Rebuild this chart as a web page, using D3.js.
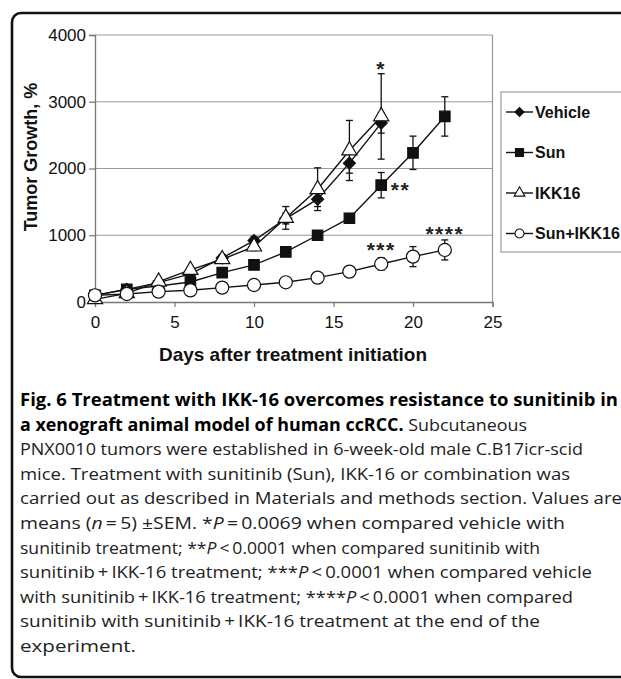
<!DOCTYPE html>
<html>
<head>
<meta charset="utf-8">
<script src="https://cdn.jsdelivr.net/npm/d3@7"></script>
<style>
	body { margin: 0; background: #fff; }
	svg { display: block; }
</style>
</head>
<body>
<svg id="fig" width="621" height="679"></svg>
<script>
//DATA

var days = [0, 2, 4, 6, 8, 10, 12, 14, 16, 18, 20, 22];

var vehicle    = [100, 190, 290, 420, 660, 920, 1250, 1540, 2080, 2680];
var vehicleErr = [20, 20, 30, 40, 50, 60, 80, 110, 150, 150];

var sun    = [100, 190, 240, 300, 440, 555, 750, 1000, 1255, 1750, 2235, 2780];
var sunErr = [20, 20, 20, 30, 40, 40, 50, 60, 70, 190, 250, 295];

var ikk16    = [40, 130, 305, 480, 640, 830, 1260, 1690, 2270, 2780];
var ikk16Err = [10, 20, 30, 40, 50, 60, 170, 320, 450, 640];

var combo    = [100, 120, 155, 175, 215, 255, 295, 365, 455, 570, 680, 780];
var comboErr = [10, 10, 15, 15, 20, 20, 25, 30, 35, 90, 150, 150];

var seriesNames = ["Vehicle", "Sun", "IKK16", "Sun+IKK16"];

var xTicks = [0, 5, 10, 15, 20, 25];
var yTicks = [0, 1000, 2000, 3000, 4000];

//significance marks: [day, value, label]
var marks = [
	[18, 3640, "*"],
	[18.6, 1830, "**"],
	[18, 920, "***"],
	[22, 1160, "****"]
];

var captionLines = [
	[["b", "Fig. 6 Treatment with IKK-16 overcomes resistance to sunitinib in"]],
	[["b", "a xenograft animal model of human ccRCC."], ["r", " Subcutaneous"]],
	[["r", "PNX0010 tumors were established in 6-week-old male C.B17icr-scid"]],
	[["r", "mice. Treatment with sunitinib (Sun), IKK-16 or combination was"]],
	[["r", "carried out as described in Materials and methods section. Values are"]],
	[["r", "means ("], ["i", "n"], ["r", "\u2009=\u20095) \u00b1SEM. *"], ["i", "P"], ["r", "\u2009=\u20090.0069 when compared vehicle with"]],
	[["r", "sunitinib treatment; **"], ["i", "P"], ["r", "\u2009<\u20090.0001 when compared sunitinib with"]],
	[["r", "sunitinib\u2009+\u2009IKK-16 treatment; ***"], ["i", "P"], ["r", "\u2009<\u20090.0001 when compared vehicle"]],
	[["r", "with sunitinib\u2009+\u2009IKK-16 treatment; ****"], ["i", "P"], ["r", "\u2009<\u20090.0001 when compared"]],
	[["r", "sunitinib with sunitinib\u2009+\u2009IKK-16 treatment at the end of the"]],
	[["r", "experiment."]]
];
//line widths as printed in the reference
var captionWidths = [598, 507, 563, 550, 602, 545, 520, 572, 553, 520, 116];

//LAYOUT

var svg = d3.select("#fig");
var chartFont = "'Liberation Sans', Arial, sans-serif";
var capFont = "'Open Sans', 'Noto Sans', sans-serif";

//frame around the figure (clipped at right)
svg.append("rect")
	.attr("x", 12).attr("y", 13)
	.attr("width", 700).attr("height", 664)
	.attr("rx", 9)
	.attr("fill", "none")
	.attr("stroke", "#111")
	.attr("stroke-width", 2.6);

var plot = { left: 95, top: 35, right: 492.5, bottom: 302 };

var xScale = d3.scaleLinear().domain([0, 25]).range([plot.left, plot.right]);
var yScale = d3.scaleLinear().domain([0, 4000]).range([plot.bottom, plot.top]);

var g = svg.append("g");

//gridlines
g.selectAll("line.grid")
	.data(yTicks.slice(1))
	.enter()
	.append("line")
	.attr("class", "grid")
	.attr("x1", plot.left).attr("x2", plot.right)
	.attr("y1", d => yScale(d)).attr("y2", d => yScale(d))
	.attr("stroke", "#9a9a9a")
	.attr("stroke-width", 1.2);

//right frame
g.append("line")
	.attr("x1", plot.right).attr("x2", plot.right)
	.attr("y1", plot.top).attr("y2", plot.bottom)
	.attr("stroke", "#9a9a9a")
	.attr("stroke-width", 1.2);

//axes
var xAxis = d3.axisBottom(xScale).tickValues(xTicks).tickSize(5).tickPadding(9).tickFormat(d3.format("d"));
var yAxis = d3.axisLeft(yScale).tickValues(yTicks).tickSize(6).tickPadding(3).tickFormat(d3.format("d"));

var gx = g.append("g")
	.attr("transform", "translate(0," + plot.bottom + ")")
	.call(xAxis);
var gy = g.append("g")
	.attr("transform", "translate(" + plot.left + ",0)")
	.call(yAxis);

[gx, gy].forEach(a => {
	a.select(".domain").attr("stroke", "#777").attr("stroke-width", 1.3);
	a.selectAll(".tick line").attr("stroke", "#777").attr("stroke-width", 1.2);
	a.selectAll(".tick text")
		.attr("font-family", chartFont)
		.attr("font-size", 17)
		.attr("fill", "#111");
});

//axis titles
g.append("text")
	.attr("x", 293).attr("y", 361)
	.attr("text-anchor", "middle")
	.attr("font-family", chartFont)
	.attr("font-weight", "bold")
	.attr("font-size", 19)
	.attr("fill", "#111")
	.text("Days after treatment initiation");

g.append("text")
	.attr("transform", "translate(37,157) rotate(-90)")
	.attr("text-anchor", "middle")
	.attr("font-family", chartFont)
	.attr("font-weight", "bold")
	.attr("font-size", 18)
	.attr("fill", "#111")
	.text("Tumor Growth, %");

//SERIES

var diamond = d3.symbol().type(d3.symbolSquare).size(72);
var square = d3.symbol().type(d3.symbolSquare).size(110);
var triangle = d3.symbol().type(d3.symbolTriangle).size(100);
var circle = d3.symbol().type(d3.symbolCircle).size(135);

var series = [
	{ name: seriesNames[0], values: vehicle, errs: vehicleErr, sym: diamond, rot: 45, fill: "#111" },
	{ name: seriesNames[1], values: sun, errs: sunErr, sym: square, rot: 0, fill: "#111" },
	{ name: seriesNames[2], values: ikk16, errs: ikk16Err, sym: triangle, rot: 0, fill: "#fff" },
	{ name: seriesNames[3], values: combo, errs: comboErr, sym: circle, rot: 0, fill: "#fff" }
];

var line = d3.line()
	.x(d => xScale(d[0]))
	.y(d => yScale(d[1]));

series.forEach(s => {
	var pts = s.values.map((v, i) => [days[i], v, s.errs[i]]);
	var sg = g.append("g");

	//error bars
	var eb = sg.selectAll("g.err").data(pts).enter().append("g");
	eb.append("line")
		.attr("x1", d => xScale(d[0])).attr("x2", d => xScale(d[0]))
		.attr("y1", d => yScale(d[1] - d[2])).attr("y2", d => yScale(d[1] + d[2]))
		.attr("stroke", "#111").attr("stroke-width", 1.3);
	eb.selectAll("line.cap")
		.data(d => [[d[0], d[1] - d[2]], [d[0], d[1] + d[2]]])
		.enter().append("line")
		.attr("x1", d => xScale(d[0]) - 3.5).attr("x2", d => xScale(d[0]) + 3.5)
		.attr("y1", d => yScale(d[1])).attr("y2", d => yScale(d[1]))
		.attr("stroke", "#111").attr("stroke-width", 1.3);

	sg.append("path")
		.attr("d", line(pts))
		.attr("fill", "none")
		.attr("stroke", "#111")
		.attr("stroke-width", 1.4);

	sg.selectAll("path.mk").data(pts).enter().append("path")
		.attr("d", s.sym)
		.attr("transform", d => "translate(" + xScale(d[0]) + "," + yScale(d[1]) + ") rotate(" + s.rot + ")")
		.attr("fill", s.fill)
		.attr("stroke", "#111")
		.attr("stroke-width", 1.2);
});

//significance marks
g.selectAll("text.sig")
	.data(marks)
	.enter()
	.append("text")
	.attr("x", d => xScale(d[0]))
	.attr("y", d => yScale(d[1]))
	.attr("dy", "0.8em")
	.attr("text-anchor", d => d[2] == "**" ? "start" : "middle")
	.attr("font-family", chartFont)
	.attr("font-weight", "bold")
	.attr("font-size", 21)
	.attr("letter-spacing", 1.5)
	.attr("fill", "#222")
	.text(d => d[2]);

//LEGEND

var lg = svg.append("g");
lg.append("rect")
	.attr("x", 501).attr("y", 92)
	.attr("width", 160).attr("height", 160)
	.attr("fill", "#fff")
	.attr("stroke", "#9a9a9a")
	.attr("stroke-width", 1.2);

var legendSyms = [
	d3.symbol().type(d3.symbolSquare).size(40),
	d3.symbol().type(d3.symbolSquare).size(64),
	d3.symbol().type(d3.symbolTriangle).size(50),
	d3.symbol().type(d3.symbolCircle).size(64)
];

var entries = lg.selectAll("g.entry")
	.data(series)
	.enter()
	.append("g")
	.attr("transform", (d, i) => "translate(0," + (112 + i * 40.5) + ")");

entries.append("line")
	.attr("x1", 506).attr("x2", 533)
	.attr("stroke", "#111").attr("stroke-width", 1.4);
entries.append("path")
	.attr("d", (d, i) => legendSyms[i]())
	.attr("transform", d => "translate(519.5,0) rotate(" + d.rot + ")")
	.attr("fill", d => d.fill)
	.attr("stroke", "#111")
	.attr("stroke-width", 1.1);
entries.append("text")
	.attr("x", 535)
	.attr("dy", "0.36em")
	.attr("font-family", chartFont)
	.attr("font-weight", "bold")
	.attr("font-size", 16)
	.attr("fill", "#111")
	.text(d => d.name);

//CAPTION

var cap = svg.append("g");
var capText = cap.selectAll("text")
	.data(captionLines)
	.enter()
	.append("text")
	.attr("x", 20)
	.attr("y", (d, i) => 406 + i * 24.6)
	.attr("font-family", capFont)
	.attr("font-size", 17)
	.attr("fill", "#222")
	.attr("textLength", (d, i) => captionWidths[i])
	.attr("lengthAdjust", "spacingAndGlyphs");

capText.selectAll("tspan")
	.data(d => d)
	.enter()
	.append("tspan")
	.attr("font-weight", d => d[0] == "b" ? "bold" : "normal")
	.attr("font-style", d => d[0] == "i" ? "italic" : "normal")
	.attr("fill", d => d[0] == "b" ? "#000" : "#222")
	.text(d => d[1]);
</script>
</body>
</html>
